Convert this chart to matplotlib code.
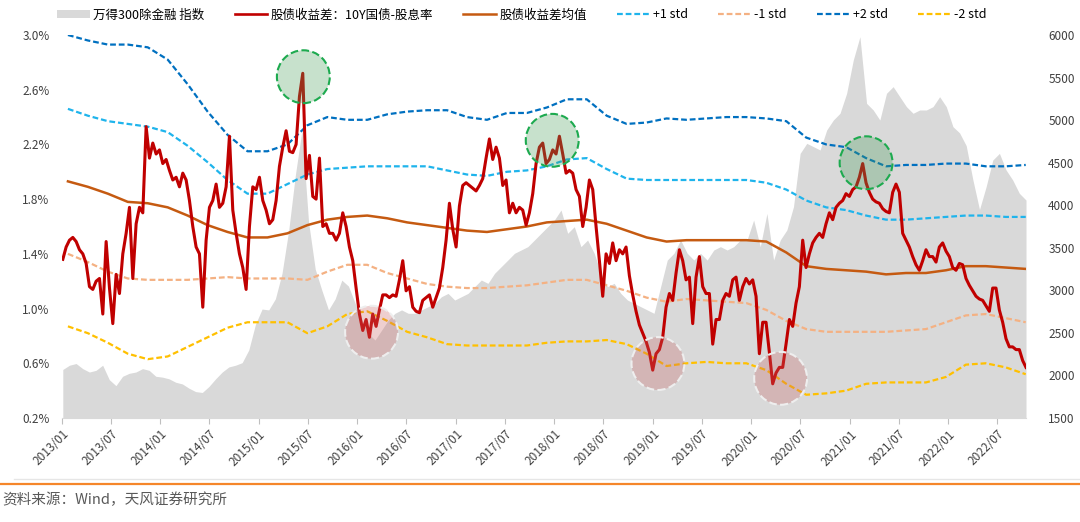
import pandas as pd
import numpy as np
import matplotlib
matplotlib.use('Agg')
import matplotlib.pyplot as plt
from matplotlib.patches import Patch
from matplotlib.lines import Line2D

plt.rcParams['font.family'] = ['Noto Sans CJK SC', 'DejaVu Sans']

# 股债收益差：10Y国债-股息率（%），2013/01 - 2022/10 等间隔读数
spread = [
    1.36, 1.45, 1.50, 1.52, 1.49, 1.43, 1.40, 1.33, 1.16, 1.14,
    1.20, 1.22, 0.96, 1.49, 1.15, 0.89, 1.25, 1.11, 1.40, 1.55,
    1.74, 1.22, 1.62, 1.74, 1.70, 2.33, 2.10, 2.21, 2.13, 2.16,
    2.06, 2.09, 2.01, 1.94, 1.96, 1.89, 1.99, 1.94, 1.79, 1.60,
    1.45, 1.40, 1.01, 1.50, 1.74, 1.79, 1.91, 1.74, 1.77, 1.89,
    2.26, 1.72, 1.55, 1.40, 1.30, 1.14, 1.60, 1.89, 1.87, 1.96,
    1.79, 1.72, 1.62, 1.65, 1.79, 2.04, 2.18, 2.30, 2.15, 2.14,
    2.20, 2.55, 2.72, 1.95, 2.12, 1.82, 1.80, 2.10, 1.60, 1.62,
    1.55, 1.55, 1.50, 1.55, 1.70, 1.60, 1.45, 1.35, 1.15,
    0.96, 0.84, 0.92, 0.79, 0.96, 0.87, 0.99, 1.10, 1.10, 1.08,
    1.10, 1.09, 1.21, 1.35, 1.13, 1.16, 1.01, 0.98, 0.97, 1.06,
    1.08, 1.10, 1.01, 1.08, 1.15, 1.30, 1.50, 1.77, 1.58, 1.45,
    1.75, 1.90, 1.92, 1.90, 1.88, 1.86, 1.90, 1.95, 2.10, 2.24,
    2.09, 2.18, 2.10, 1.90, 1.94, 1.70, 1.77, 1.70, 1.74, 1.72,
    1.61, 1.70, 1.84, 2.06, 2.18, 2.21, 2.06, 2.09, 2.16, 2.13,
    2.26, 2.13, 1.99, 2.01, 1.99, 1.87, 1.82, 1.60, 1.74, 1.94,
    1.87, 1.60, 1.35, 1.09, 1.40, 1.33, 1.48, 1.35, 1.43, 1.40,
    1.45, 1.24, 1.10, 0.98, 0.88, 0.82, 0.76, 0.68, 0.55, 0.67,
    0.70, 0.79, 1.01, 1.11, 1.06, 1.26, 1.43, 1.35, 1.21, 1.23,
    0.89, 1.23, 1.38, 1.16, 1.11, 1.11, 0.74, 0.92,
    0.92, 1.06, 1.11, 1.09, 1.21, 1.23, 1.06, 1.16, 1.22, 1.18,
    1.21, 1.09, 0.67, 0.90, 0.90, 0.68, 0.45, 0.53, 0.57, 0.57,
    0.74, 0.92, 0.87, 1.04, 1.16, 1.50, 1.30, 1.40, 1.48, 1.52,
    1.55, 1.52, 1.62, 1.70, 1.65, 1.74, 1.77, 1.79, 1.84, 1.82,
    1.87, 1.89, 1.96, 2.06, 1.92, 1.85, 1.80, 1.78, 1.77, 1.73,
    1.71, 1.70, 1.85, 1.91, 1.85, 1.55, 1.50, 1.45, 1.38, 1.32,
    1.28, 1.35, 1.43, 1.38, 1.38, 1.34, 1.45, 1.48, 1.42, 1.38,
    1.30, 1.28, 1.33, 1.32, 1.22, 1.17, 1.13, 1.09, 1.07, 1.06,
    1.02, 0.98, 1.15, 1.15, 0.99, 0.90, 0.78, 0.72, 0.72, 0.70,
    0.70, 0.62, 0.57,
]

# 万得300除金融 指数
index_vals = [
    2070, 2120, 2140, 2080, 2040, 2060, 2120, 1950, 1880, 1990,
    2025, 2040, 2080, 2060, 1990, 1980, 1960, 1920, 1900, 1850,
    1810, 1800, 1870, 1960, 2040, 2100, 2120, 2150, 2300, 2600,
    2780, 2770, 2900, 3200, 3700, 4350, 4880, 3800, 3250, 3000,
    2770, 2900, 3120, 3050, 2850,
    2651, 2494, 2416, 2533, 2651, 2730, 2770, 2730, 2730, 2769,
    2808, 2847, 2925, 2964, 2886, 2925, 2964, 3043, 3121, 3082,
    3200, 3278, 3356, 3435, 3474, 3513, 3591, 3670, 3748, 3826,
    3944, 3670, 3748, 3513, 3591, 3435, 3200, 3043, 3082, 2964,
    2886, 2847, 2808, 2769, 2730, 3043, 3356, 3435, 3591, 3435,
    3356, 3435, 3356, 3474,
    3513, 3474, 3513, 3591, 3591, 3826, 3513, 3904, 3356, 3591,
    3709, 3983, 4609, 4727, 4688, 4649, 4884, 5001, 5080, 5315,
    5706, 5980, 5197, 5119, 5001, 5315, 5393, 5275, 5158, 5080,
    5119, 5119, 5158, 5275, 5158, 4923, 4850, 4700, 4300, 3950,
    4218, 4531, 4609, 4414, 4296, 4140, 4061,
]

# 均值与标准差带（%）
mean_vals = [
    1.93, 1.89, 1.84, 1.78, 1.77, 1.74, 1.68, 1.61, 1.56, 1.52,
    1.52, 1.55, 1.61, 1.65, 1.67,
    1.68, 1.66, 1.63, 1.61, 1.59, 1.57, 1.56, 1.58, 1.60, 1.63,
    1.64, 1.65, 1.62, 1.57, 1.52, 1.49, 1.50, 1.50,
    1.50, 1.50, 1.49, 1.41, 1.31, 1.29, 1.28, 1.27, 1.25, 1.26,
    1.26, 1.28, 1.31, 1.31, 1.30, 1.29,
]
plus1 = [
    2.46, 2.41, 2.37, 2.35, 2.33, 2.29, 2.19, 2.07, 1.94, 1.84,
    1.84, 1.91, 1.98, 2.02, 2.03,
    2.04, 2.04, 2.04, 2.04, 2.01, 1.98, 1.97, 2.00, 2.01, 2.04,
    2.09, 2.10, 2.02, 1.95, 1.94, 1.94, 1.94, 1.94,
    1.94, 1.94, 1.92, 1.87, 1.79, 1.74, 1.72, 1.68, 1.65, 1.65,
    1.66, 1.67, 1.68, 1.68, 1.67, 1.67,
]
plus2 = [
    3.00, 2.96, 2.93, 2.93, 2.91, 2.82, 2.64, 2.44, 2.27, 2.15,
    2.15, 2.20, 2.34, 2.40, 2.38,
    2.38, 2.42, 2.44, 2.45, 2.45, 2.40, 2.38, 2.43, 2.43, 2.47,
    2.53, 2.53, 2.41, 2.35, 2.36, 2.39, 2.38, 2.39,
    2.40, 2.40, 2.39, 2.37, 2.25, 2.20, 2.18, 2.10, 2.04, 2.05,
    2.05, 2.06, 2.06, 2.04, 2.04, 2.05,
]
minus1 = [
    1.40, 1.34, 1.27, 1.22, 1.21, 1.21, 1.21, 1.22, 1.23, 1.22,
    1.22, 1.22, 1.21, 1.27, 1.32,
    1.32, 1.26, 1.22, 1.18, 1.16, 1.15, 1.15, 1.16, 1.17, 1.19,
    1.21, 1.21, 1.17, 1.13, 1.08, 1.05, 1.07, 1.06,
    1.05, 1.04, 0.99, 0.91, 0.85, 0.83, 0.83, 0.83, 0.83, 0.84,
    0.85, 0.90, 0.95, 0.96, 0.93, 0.90,
]
minus2 = [
    0.87, 0.82, 0.75, 0.67, 0.63, 0.65, 0.72, 0.79, 0.86, 0.90,
    0.90, 0.90, 0.82, 0.87, 0.96,
    0.98, 0.91, 0.83, 0.79, 0.74, 0.73, 0.73, 0.73, 0.73, 0.75,
    0.76, 0.76, 0.77, 0.74, 0.67, 0.58, 0.60, 0.61,
    0.60, 0.60, 0.55, 0.45, 0.37, 0.38, 0.40, 0.45, 0.46, 0.46,
    0.46, 0.50, 0.59, 0.60, 0.57, 0.52,
]

# 标注圆圈：高点（绿）与低点（红）
high_dates = ['2015-06-15', '2017-12-24', '2021-03-02']
high_vals = [2.695, 2.23, 2.066]
low_dates = ['2016-02-23', '2019-01-20', '2020-04-19']
low_vals = [0.827, 0.598, 0.49]

red_dates = pd.date_range('2013-01-04', '2022-10-16', periods=len(spread))
idx_dates = pd.date_range('2013-01-04', '2022-10-16', periods=len(index_vals))
band_dates = pd.date_range('2013-01-23', '2022-10-15', periods=len(mean_vals))

fig = plt.figure(figsize=(10.8, 5.22), dpi=100)
ax = fig.add_axes([62 / 1080, 1 - 418 / 522, 964 / 1080, 383 / 522])
ax2 = ax.twinx()

# 右轴：指数面积
ax2.fill_between(idx_dates, 0, index_vals, color='#D9D9D9', lw=0)
ax2.set_ylim(1500, 6000)
ax2.set_yticks(range(1500, 6001, 500))
ax.set_zorder(ax2.get_zorder() + 1)
ax.patch.set_visible(False)

dash = (0, (2.6, 1.3))
ax.plot(band_dates, plus2, color='#0070C0', lw=1.6, ls=dash)
ax.plot(band_dates, plus1, color='#1FB4EC', lw=1.6, ls=dash)
ax.plot(band_dates, minus1, color='#F4B183', lw=1.6, ls=dash)
ax.plot(band_dates, minus2, color='#FFC000', lw=1.6, ls=dash)
ax.plot(band_dates, mean_vals, color='#C55A11', lw=1.8)
ax.plot(red_dates, spread, color='#C00000', lw=2.2)

ax.scatter(pd.to_datetime(high_dates), high_vals, s=1450, facecolor=(0.28, 0.61, 0.35, 0.3),
           edgecolor='#1DAA4F', linewidths=1.5, linestyle='--', zorder=6)
ax.scatter(pd.to_datetime(low_dates), low_vals, s=1450, facecolor=(0.78, 0.39, 0.39, 0.3),
           edgecolor='#EEEEEE', linewidths=1.5, linestyle='--', zorder=6)

ax.set_xlim(pd.Timestamp('2013-01-01'), pd.Timestamp('2022-10-16'))
ax.set_ylim(0.2, 3.0)
yt = np.arange(0.2, 3.01, 0.4)
ax.set_yticks(yt)
ax.set_yticklabels([f'{v:.1f}%' for v in yt])

xt = pd.date_range('2013-01-01', '2022-07-01', freq='6MS')
ax.set_xticks(xt)
ax.set_xticklabels([d.strftime('%Y/%m') for d in xt], rotation=45, ha='right',
                   rotation_mode='anchor')

for a in (ax, ax2):
    for s in a.spines.values():
        s.set_visible(False)
ax.spines['bottom'].set_visible(True)
ax.spines['bottom'].set_color('#D9D9D9')
ax.tick_params(axis='x', length=4, color='#BFBFBF', labelsize=8.5, labelcolor='#404040', pad=3)
ax.tick_params(axis='y', length=0, labelsize=8.5, labelcolor='#404040', pad=9)
ax2.tick_params(axis='y', length=0, labelsize=8.5, labelcolor='#404040', pad=16)

handles = [
    Patch(facecolor='#D9D9D9', edgecolor='none'),
    Line2D([], [], color='#C00000', lw=1.9),
    Line2D([], [], color='#C55A11', lw=1.8),
    Line2D([], [], color='#1FB4EC', lw=1.6, ls=dash),
    Line2D([], [], color='#F4B183', lw=1.6, ls=dash),
    Line2D([], [], color='#0070C0', lw=1.6, ls=dash),
    Line2D([], [], color='#FFC000', lw=1.6, ls=dash),
]
labels = ['万得300除金融 指数', '股债收益差：10Y国债-股息率', '股债收益差均值',
          '+1 std', '-1 std', '+2 std', '-2 std']
fig.legend(handles, labels, loc='center', bbox_to_anchor=(522 / 1080, 1 - 15 / 522),
           ncol=7, frameon=False, fontsize=9, handlelength=2.6, handleheight=0.6,
           columnspacing=2.4, handletextpad=0.3)

fig.add_artist(Line2D([14 / 1080, 1], [1 - 479 / 522] * 2, color='#E6E6E6', lw=1,
                      transform=fig.transFigure))
fig.add_artist(Line2D([0, 1], [1 - 484 / 522] * 2, color='#F5862A', lw=1.6,
                      transform=fig.transFigure))
fig.text(2 / 1080, 1 - 500 / 522, '资料来源：Wind，天风证券研究所', fontsize=10.5,
         color='#595959', va='center')

fig.savefig('out.png', dpi=100)
